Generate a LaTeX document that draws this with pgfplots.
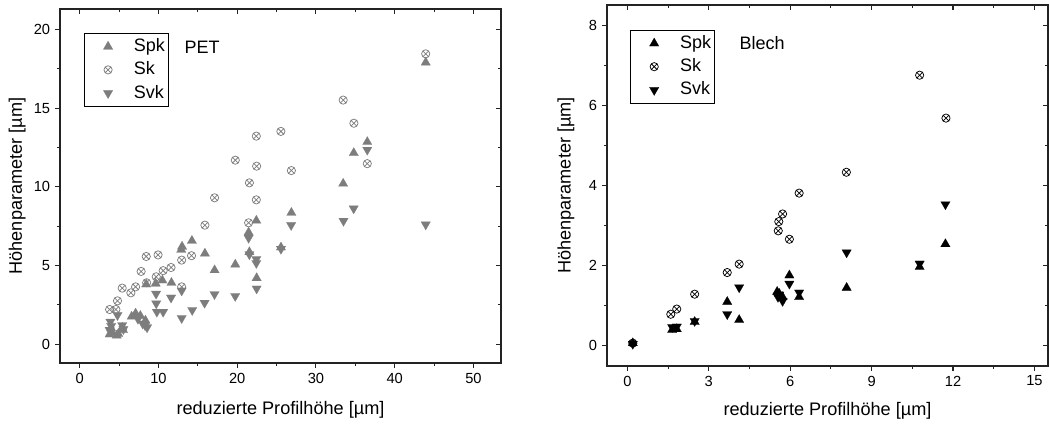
\documentclass[border=0pt]{standalone}
\usepackage{fontspec}
\setmainfont{Liberation Sans}
\setsansfont{Liberation Sans}
\usepackage{pgfplots}
\pgfplotsset{compat=1.18}
\usepackage{pgfplotstable}

\definecolor{petgray}{RGB}{125,125,125}
\definecolor{framec}{RGB}{35,35,35}

% ---------------- PET ----------------
\pgfplotstableread{
x y
3.8 0.62
4.1 0.75
4.7 0.55
4.9 0.65
4.0 1.0
5.5 0.9
5.4 1.05
6.6 1.75
7.1 1.95
7.7 1.8
8.35 1.5
8.45 3.8
9.65 3.85
10.5 4.05
11.65 3.9
12.9 6.0
13.0 6.2
14.25 6.57
15.9 5.76
17.13 4.7
19.76 5.06
21.45 7.1
21.55 5.85
22.43 7.85
22.47 4.2
25.56 6.15
26.88 8.35
33.46 10.2
34.8 12.15
36.52 12.85
43.94 17.9
}\petSpk

\pgfplotstableread{
x y
3.8 2.2
4.6 2.2
4.8 2.75
5.4 3.56
6.5 3.26
7.1 3.64
7.8 4.62
8.45 5.57
9.95 5.67
8.5 3.9
9.72 4.28
10.6 4.67
11.6 4.87
12.95 3.64
12.95 5.34
14.2 5.62
15.9 7.56
17.13 9.3
19.76 11.69
21.45 7.71
21.55 10.25
22.43 9.17
22.47 11.31
22.43 13.22
25.55 13.52
26.88 11.03
33.46 15.51
34.82 14.04
36.52 11.47
43.94 18.45
}\petSk

\pgfplotstableread{
x y
3.9 1.42
4.0 1.15
3.8 0.9
4.8 1.84
5.4 1.2
5.55 0.95
7.4 1.6
8.0 1.3
8.3 1.2
8.56 1.06
9.7 3.2
9.72 2.58
9.8 2.05
10.6 2.05
11.6 2.95
12.95 3.4
12.95 1.65
14.29 2.16
15.86 2.62
17.12 3.17
19.75 3.05
21.45 6.75
21.55 5.7
22.43 5.4
22.43 5.15
22.47 3.53
25.56 6.05
26.85 7.56
33.5 7.83
34.79 8.62
36.52 12.35
43.94 7.6
}\petSvk

% ---------------- Blech ----------------
\pgfplotstableread{
x y
0.2 0.07
1.65 0.40
1.82 0.42
2.48 0.60
3.68 1.10
4.12 0.65
5.52 1.35
5.60 1.30
5.72 1.22
5.97 1.76
6.33 1.22
8.08 1.45
10.77 1.97
11.72 2.54
}\blechSpk

\pgfplotstableread{
x y
0.2 0.07
1.60 0.79
1.82 0.92
2.48 1.29
3.68 1.83
4.12 2.04
5.56 2.87
5.58 3.10
5.72 3.29
5.97 2.66
6.33 3.81
8.07 4.33
10.77 6.75
11.74 5.68
}\blechSk

\pgfplotstableread{
x y
0.2 0.05
1.65 0.47
1.82 0.48
2.48 0.62
3.68 0.79
4.12 1.46
5.55 1.22
5.60 1.28
5.72 1.12
5.97 1.55
6.33 1.33
8.08 2.33
10.77 2.05
11.72 3.53
}\blechSvk

\pgfplotsset{
  panel/.style={
    scale only axis,
    width=330.75bp,
    axis line style={framec, line width=1.0bp},
    tick style={framec, line width=0.8bp},
    major tick length=3.9bp,
    minor tick length=2.4bp,
    tick label style={font=\fontsize{11bp}{13bp}\selectfont},
    label style={font=\fontsize{13.6bp}{16bp}\selectfont},
    /pgf/number format/assume math mode=true,
    minor x tick num=1,
    minor y tick num=1,
  },
  lower/.style={
    panel,
    xtick pos=left, ytick pos=left,
    tick align=outside,
  },
  upper/.style={
    panel,
    xtick pos=right, ytick pos=right,
    tick align=inside,
    xticklabels={}, yticklabels={},
  },
  spk/.style={only marks, color=#1, mark=triangle*, mark size=4.1bp, mark options={draw=#1, fill=#1, line width=0.1bp}},
  sk/.style={only marks, color=#1, mark=otimes, mark size=3.1bp, mark options={draw=#1, line width=0.55bp, fill=white}},
  svk/.style={only marks, color=#1, mark=triangle*, mark size=4.1bp, mark options={draw=#1, fill=#1, line width=0.1bp, rotate=180}},
  boxlegend/.style={
    legend cell align=left,
    legend style={
      draw=black, line width=0.7bp, fill=white,
      inner xsep=1bp, inner ysep=1bp,
      font=\fontsize{13.5bp}{16bp}\selectfont,
      nodes={inner xsep=1.5bp, inner ysep=2.65bp, text height=9.8bp, text depth=2.4bp},
    },
    legend image code/.code={\draw[##1] plot coordinates {(16.5bp,0bp)};
      \path (0bp,0bp) (34bp,0bp);},
  },
}

\begin{document}
\begin{tikzpicture}
\useasboundingbox (0bp,0bp) rectangle (787.5bp,319.5bp);

% ---- PET panel ----
\begin{axis}[lower, at={(45bp,47.25bp)}, anchor=south west, height=265.5bp,
  xmin=-2.5, xmax=53.5, ymin=-1.2, ymax=21.3,
  xtick={0,10,...,50}, ytick={0,5,...,20},
  xlabel={reduzierte Profilhöhe [µm]},
  ylabel={Höhenparameter [µm]},
  xlabel style={at={(axis description cs:0.5,-0.133)}, anchor=center},
  ylabel style={at={(axis description cs:-0.097,0.5)}, anchor=center},
  boxlegend,
  legend style={at={(0.054,0.932)}, anchor=north west},
]
\addplot[spk=petgray] table {\petSpk};
\addplot[sk=petgray] table {\petSk};
\addplot[svk=petgray] table {\petSvk};
\legend{Spk, Sk, Svk}
\node[anchor=west, font=\fontsize{13.5bp}{16bp}\selectfont] at (rel axis cs:0.272,0.893) {PET};
\end{axis}
\begin{axis}[upper, at={(45bp,47.25bp)}, anchor=south west, height=265.5bp,
  xmin=-2.5, xmax=53.5, ymin=-1.2, ymax=21.3,
  xtick={0,10,...,50}, ytick={0,5,...,20}]
\end{axis}

% ---- Blech panel ----
\begin{axis}[lower, at={(455.25bp,45bp)}, anchor=south west, height=270.75bp,
  xmin=-0.75, xmax=15.5, ymin=-0.5, ymax=8.5,
  xtick={0,3,...,15}, ytick={0,2,...,8},
  xlabel={reduzierte Profilhöhe [µm]},
  ylabel={Höhenparameter [µm]},
  xlabel style={at={(axis description cs:0.5,-0.125)}, anchor=center},
  ylabel style={at={(axis description cs:-0.093,0.5)}, anchor=center},
  boxlegend,
  legend style={at={(0.052,0.931)}, anchor=north west},
]
\addplot[spk=black] table {\blechSpk};
\addplot[sk=black] table {\blechSk};
\addplot[svk=black] table {\blechSvk};
\legend{Spk, Sk, Svk}
\node[anchor=west, font=\fontsize{13.5bp}{16bp}\selectfont] at (rel axis cs:0.29,0.895) {Blech};
\end{axis}
\begin{axis}[upper, at={(455.25bp,45bp)}, anchor=south west, height=270.75bp,
  xmin=-0.75, xmax=15.5, ymin=-0.5, ymax=8.5,
  xtick={0,3,...,15}, ytick={0,2,...,8}]
\end{axis}
\end{tikzpicture}
\end{document}
